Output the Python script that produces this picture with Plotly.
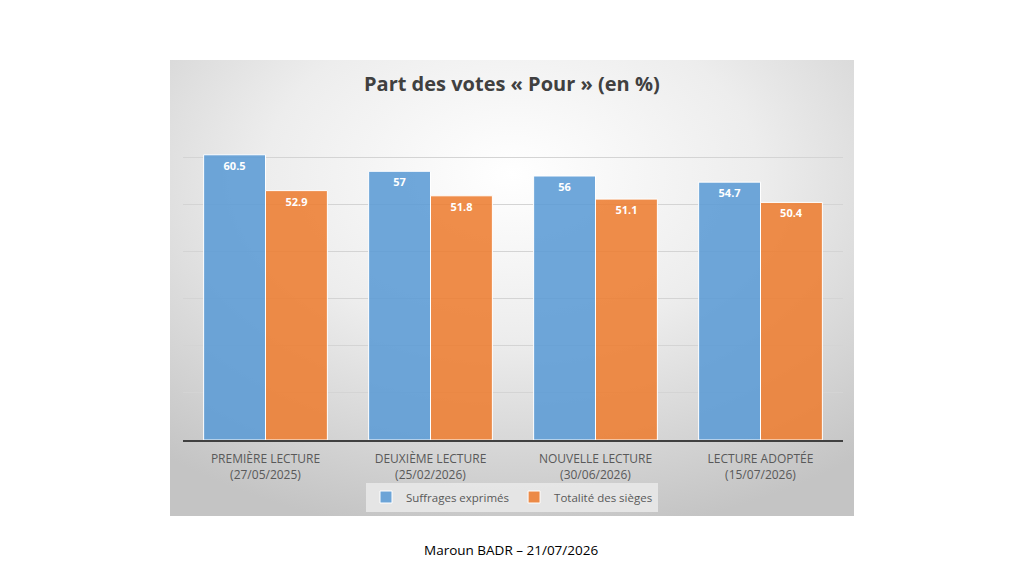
import base64

import plotly.graph_objects as go

# data
categories = [
    "PREMIÈRE LECTURE<br>(27/05/2025)",
    "DEUXIÈME LECTURE<br>(25/02/2026)",
    "NOUVELLE LECTURE<br>(30/06/2026)",
    "LECTURE ADOPTÉE<br>(15/07/2026)",
]
suffrages_exprimes = [60.5, 57, 56, 54.7]
totalite_sieges = [52.9, 51.8, 51.1, 50.4]

title_text = "Part des votes « Pour » (en %)"
footer_text = "Maroun BADR – 21/07/2026"

font_family = "Open Sans, Noto Sans, sans-serif"

# page offset (browser body margin), figure coords = screen coords - OFF
OFF = 8
W, H = 1024, 576


def px(x):
    return (x - OFF) / W


def py(y):
    return 1 - (y - OFF) / H


# radial grey gradient behind the chart (office style)
bg_svg = """<svg xmlns='http://www.w3.org/2000/svg' width='684' height='456' viewBox='0 0 684 456' preserveAspectRatio='none'>
<defs><radialGradient id='g' cx='50%' cy='25%' r='80%'>
<stop offset='0%' stop-color='#ffffff'/>
<stop offset='45%' stop-color='#ededed'/>
<stop offset='100%' stop-color='#c4c4c4'/>
</radialGradient></defs>
<rect width='684' height='456' fill='url(#g)'/>
</svg>"""
bg_uri = "data:image/svg+xml;base64," + base64.b64encode(bg_svg.encode()).decode()

fig = go.Figure()

fig.add_trace(
    go.Bar(
        x=categories,
        y=suffrages_exprimes,
        name="Suffrages exprimés",
        marker=dict(color="rgba(91,155,213,0.88)", line=dict(color="white", width=1)),
        text=[f"{v:g}" for v in suffrages_exprimes],
        textposition="inside",
        insidetextanchor="end",
        textfont=dict(color="white", size=11, family=font_family, weight="bold"),
    )
)
fig.add_trace(
    go.Bar(
        x=categories,
        y=totalite_sieges,
        name="Totalité des sièges",
        marker=dict(color="rgba(237,125,49,0.88)", line=dict(color="white", width=1)),
        text=[f"{v:g}" for v in totalite_sieges],
        textposition="inside",
        insidetextanchor="end",
        textfont=dict(color="white", size=11, family=font_family, weight="bold"),
    )
)

fig.update_layout(
    width=W,
    height=H,
    margin=dict(l=0, r=0, t=0, b=0),
    paper_bgcolor="white",
    plot_bgcolor="rgba(0,0,0,0)",
    barmode="group",
    bargap=0.25,
    bargroupgap=0,
    font=dict(family=font_family, color="#595959"),
    showlegend=True,
    legend=dict(
        orientation="h",
        x=px(512),
        xanchor="center",
        y=py(497),
        yanchor="middle",
        bgcolor="rgba(232,232,232,0.9)",
        font=dict(size=11.5, color="#595959"),
        itemwidth=30,
        tracegroupgap=0,
    ),
    images=[
        dict(
            source=bg_uri,
            xref="paper",
            yref="paper",
            x=px(170),
            y=py(60),
            sizex=684 / W,
            sizey=456 / H,
            xanchor="left",
            yanchor="top",
            sizing="stretch",
            layer="below",
        )
    ],
    annotations=[
        dict(
            text=title_text,
            xref="paper",
            yref="paper",
            x=px(512),
            y=py(84),
            xanchor="center",
            yanchor="middle",
            showarrow=False,
            font=dict(size=20, color="#404040", family=font_family, weight="bold"),
        ),
        dict(
            text=footer_text,
            xref="paper",
            yref="paper",
            x=px(511),
            y=py(550),
            xanchor="center",
            yanchor="middle",
            showarrow=False,
            font=dict(size=13.5, color="#000000", family=font_family),
        ),
    ],
)

fig.update_xaxes(
    domain=[px(183), px(843)],
    showline=True,
    linecolor="#404040",
    linewidth=1.5,
    ticks="",
    ticklabelstandoff=7,
    tickfont=dict(size=12, color="#595959"),
)
fig.update_yaxes(
    domain=[py(440), py(110)],
    range=[0, 70],
    dtick=10,
    showticklabels=False,
    showgrid=True,
    gridcolor="#d4d4d4",
    gridwidth=1,
    zeroline=False,
)

fig.write_html("out.html")
